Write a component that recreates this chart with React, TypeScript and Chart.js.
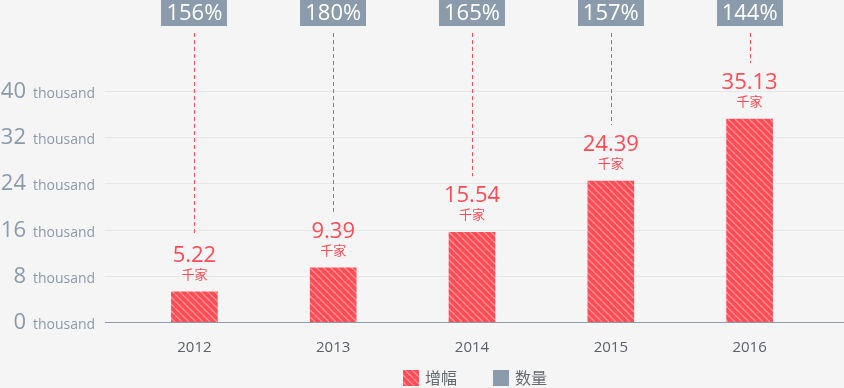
import React, { useEffect, useRef } from "react";
import { Chart, registerables } from "chart.js";

Chart.register(...registerables);

const years = ["2012", "2013", "2014", "2015", "2016"];
const values = [5.22, 9.39, 15.54, 24.39, 35.13];
const valueLabels = ["5.22", "9.39", "15.54", "24.39", "35.13"];
const growthLabels = ["156%", "180%", "165%", "157%", "144%"];
const yTicks = [0, 8, 16, 24, 32, 40];
const unitLabel = "千家";
const tickSuffix = "thousand";
const legendNames = ["增幅", "数量"];

const RED = "#ff4b55";
const GRAY = "#8c9bab";
const LATIN = "'Open Sans', 'Noto Sans CJK SC', sans-serif";
const CJK = "'Noto Sans CJK SC', 'Open Sans', sans-serif";

function makePattern(): CanvasPattern | string {
  const s = 7;
  const c = document.createElement("canvas");
  c.width = s;
  c.height = s;
  const ctx = c.getContext("2d");
  if (!ctx) return RED;
  ctx.fillStyle = RED;
  ctx.fillRect(0, 0, s, s);
  ctx.strokeStyle = "#ff9398";
  ctx.lineWidth = 1.3;
  for (const x0 of [-s, 0, s]) {
    ctx.beginPath();
    ctx.moveTo(x0, 0);
    ctx.lineTo(x0 + s, s);
    ctx.stroke();
  }
  const p = ctx.createPattern(c, "repeat");
  return p || RED;
}

export default function App() {
  const ref = useRef<HTMLCanvasElement>(null);

  useEffect(() => {
    document.body.style.margin = "0";
    document.body.style.background = "#f5f5f5";
    const canvas = ref.current;
    if (!canvas) return;
    const pattern = makePattern();

    const decor = {
      id: "decor",
      beforeDraw(chart: any) {
        const { ctx, scales } = chart;
        const y = scales.y;
        ctx.save();
        ctx.fillStyle = "#f5f5f5";
        ctx.fillRect(0, 0, chart.width, chart.height);
        yTicks.forEach((t) => {
          const py = Math.round(y.getPixelForValue(t)) + 0.5;
          ctx.beginPath();
          ctx.moveTo(105, py);
          ctx.lineTo(chart.width, py);
          ctx.strokeStyle = t === 0 ? "#8f9baa" : "#e6e8e8";
          ctx.lineWidth = t === 0 ? 1.2 : 1;
          ctx.stroke();
          ctx.fillStyle = "#8b9aab";
          ctx.textBaseline = "alphabetic";
          ctx.textAlign = "right";
          ctx.font = `22px ${LATIN}`;
          ctx.fillText(String(t), 26, py + 6);
          ctx.textAlign = "left";
          ctx.font = `14px ${LATIN}`;
          ctx.fillText(tickSuffix, 33, py + 6);
        });
        ctx.restore();
      },
      afterDatasetsDraw(chart: any) {
        const { ctx } = chart;
        const meta = chart.getDatasetMeta(0);
        ctx.save();
        meta.data.forEach((bar: any, i: number) => {
          const x = bar.x;
          const top = bar.y;
          const bw = 66, bh = 26;
          ctx.fillStyle = GRAY;
          ctx.fillRect(Math.round(x - bw / 2), 0, bw, bh);
          ctx.fillStyle = "#ffffff";
          ctx.textAlign = "center";
          ctx.textBaseline = "middle";
          ctx.font = `22px ${LATIN}`;
          ctx.fillText(growthLabels[i], x, bh / 2 + 1);
          const lx = Math.round(x) + 0.5;
          ctx.beginPath();
          ctx.setLineDash([4, 3]);
          ctx.moveTo(lx, 33);
          ctx.lineTo(lx, top - 56);
          ctx.strokeStyle = RED;
          ctx.lineWidth = 1;
          ctx.stroke();
          ctx.setLineDash([]);
          ctx.fillStyle = RED;
          ctx.textBaseline = "alphabetic";
          ctx.font = `22px ${LATIN}`;
          ctx.fillText(valueLabels[i], x, top - 30);
          ctx.font = `13px ${CJK}`;
          ctx.fillText(unitLabel, x, top - 13);
        });
        const items = [
          { x: 403, fill: pattern, text: legendNames[0] },
          { x: 493, fill: GRAY, text: legendNames[1] },
        ];
        items.forEach((it) => {
          ctx.fillStyle = it.fill;
          ctx.fillRect(it.x, 370, 16, 16);
          ctx.fillStyle = "#666b70";
          ctx.textAlign = "left";
          ctx.textBaseline = "middle";
          ctx.font = `16px ${CJK}`;
          ctx.fillText(it.text, it.x + 22, 378);
        });
        ctx.restore();
      },
    };

    const chart = new Chart(canvas, {
      type: "bar",
      data: {
        labels: years,
        datasets: [
          {
            label: legendNames[0],
            data: values,
            backgroundColor: pattern as any,
            borderWidth: 0,
            barThickness: 46,
          },
        ],
      },
      options: {
        animation: false,
        responsive: false,
        maintainAspectRatio: false,
        layout: { padding: { left: 125, right: 25, top: 91, bottom: 14 } },
        plugins: {
          legend: { display: false },
          tooltip: { enabled: false },
        },
        scales: {
          x: {
            grid: { display: false, drawTicks: false },
            border: { display: false },
            ticks: {
              padding: 17,
              color: "#5b6169",
              font: { family: LATIN, size: 15 },
            },
          },
          y: {
            display: false,
            min: 0,
            max: 40,
          },
        },
      },
      plugins: [decor],
    });
    return () => chart.destroy();
  }, []);

  return (
    <div style={{ width: 844, height: 388, background: "#f5f5f5" }}>
      <canvas ref={ref} width={844} height={388} style={{ display: "block" }} />
    </div>
  );
}
